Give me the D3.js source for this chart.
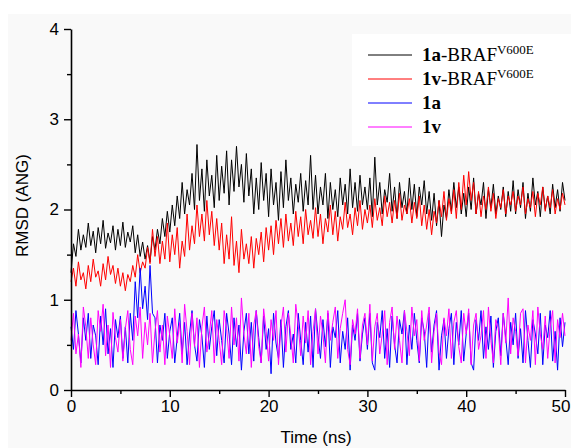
<!DOCTYPE html>
<html><head><meta charset="utf-8">
<script src="https://cdn.jsdelivr.net/npm/d3@7"></script>
<style>html,body{margin:0;padding:0;background:#fff;}svg{display:block;}</style>
</head><body>
<svg id="chart" width="571" height="448"></svg>
<script>
const timeStep = 0.25;
const seriesNames = ["1a-BRAF", "1v-BRAF", "1a", "1v"];
const xTicks = [0, 10, 20, 30, 40, 50];
const xMinorTicks = [5, 15, 25, 35, 45];
const yTicks = [0, 1, 2, 3, 4];
const yMinorTicks = [0.5, 1.5, 2.5, 3.5];

const rmsd1aBRAF = [
1.30,1.62,1.48,1.78,1.55,1.72,1.58,1.85,1.60,1.76,1.52,1.80,1.62,1.88,1.57,1.74,1.63,1.82,1.55,1.78,
1.60,1.86,1.58,1.75,1.64,1.82,1.52,1.72,1.48,1.64,1.45,1.60,1.42,1.70,1.55,1.78,1.62,1.90,1.70,1.98,
1.75,2.05,1.82,2.15,1.90,2.30,1.95,2.22,2.05,2.40,2.00,2.72,2.10,2.45,1.98,2.55,2.15,2.38,2.02,2.60,
2.10,2.48,2.18,2.65,2.05,2.55,2.20,2.70,2.25,2.50,2.08,2.62,2.15,2.45,1.95,2.35,2.00,2.52,2.10,2.40,
1.92,2.45,2.05,2.30,1.88,2.42,2.02,2.55,2.10,2.35,1.95,2.28,2.08,2.40,1.98,2.32,2.05,2.60,2.00,2.38,
1.95,2.25,2.05,2.40,1.90,2.30,2.00,2.22,1.92,2.35,2.05,2.28,1.95,2.45,2.02,2.30,1.98,2.38,2.05,2.25,
2.00,2.35,1.92,2.58,2.05,2.30,1.95,2.22,2.08,2.40,1.98,2.25,1.90,2.30,2.02,2.20,1.95,2.35,2.00,2.28,
1.92,2.25,2.05,2.32,1.95,2.20,1.88,2.18,1.82,2.10,1.70,2.05,1.90,2.22,1.98,2.30,2.02,2.25,1.95,2.18,
1.92,2.25,2.00,2.35,1.95,2.18,2.05,2.30,1.90,2.22,2.02,2.28,1.95,2.15,2.00,2.25,1.92,2.20,1.98,2.32,
1.95,2.22,2.02,2.30,1.90,2.18,1.98,2.35,2.05,2.20,1.92,2.25,2.00,2.15,1.95,2.28,2.02,2.22,1.98,2.30,2.10];

const rmsd1vBRAF = [
1.20,1.35,1.15,1.42,1.22,1.30,1.12,1.38,1.20,1.45,1.25,1.32,1.15,1.40,1.22,1.48,1.28,1.38,1.18,1.35,
1.15,1.30,1.10,1.28,1.20,1.38,1.25,1.50,1.30,1.42,1.35,1.58,1.40,1.78,1.48,1.70,1.40,1.65,1.45,1.85,
1.42,1.72,1.50,1.80,1.35,1.65,1.48,1.95,1.55,1.82,1.62,2.05,1.70,1.95,1.65,2.10,1.72,1.98,1.60,1.90,
1.55,1.85,1.40,1.72,1.45,1.92,1.38,1.65,1.30,1.78,1.45,1.62,1.40,1.70,1.35,1.68,1.50,1.75,1.42,1.80,
1.55,1.82,1.50,1.88,1.62,1.90,1.58,1.95,1.65,1.85,1.60,1.98,1.70,1.92,1.62,2.00,1.72,1.88,1.68,2.02,
1.70,1.95,1.62,1.90,1.75,2.05,1.72,1.98,1.65,1.92,1.78,2.08,1.80,1.95,1.72,2.02,1.82,2.10,1.78,2.00,
1.85,2.05,1.80,2.12,1.88,2.02,1.82,2.15,1.92,2.08,1.85,2.10,1.90,2.18,1.88,2.05,1.95,2.12,1.85,2.08,
1.90,2.15,1.82,2.05,1.78,2.00,1.72,1.98,1.85,2.10,1.92,2.20,1.88,2.12,1.95,2.22,1.90,2.30,2.00,2.38,
2.05,2.42,2.10,2.30,1.95,2.20,1.92,2.15,2.00,2.25,1.98,2.18,1.90,2.12,2.02,2.22,1.95,2.15,2.05,2.20,
1.98,2.15,2.05,2.25,1.95,2.12,2.02,2.20,1.92,2.18,2.05,2.25,1.98,2.15,2.02,2.22,1.95,2.12,2.00,2.18,2.05];

const rmsd1a = [
0.70,0.45,0.88,0.62,0.30,0.80,0.55,0.85,0.35,0.72,0.60,0.28,0.82,0.50,0.90,0.40,0.68,0.25,0.78,0.58,
0.82,0.35,0.70,0.30,0.85,0.55,1.20,0.80,1.35,0.90,1.15,0.78,1.38,0.85,0.80,0.30,0.72,0.55,0.85,0.35,
0.65,0.80,0.30,0.58,0.85,0.40,0.75,0.28,0.62,0.88,0.50,0.32,0.78,0.60,0.25,0.82,0.45,0.70,0.88,0.38,
0.78,0.55,0.30,0.85,0.62,0.28,0.80,0.48,0.72,0.22,0.65,0.85,0.40,0.75,0.32,0.88,0.58,0.30,0.82,0.45,
0.68,0.18,0.85,0.52,0.35,0.78,0.25,0.70,0.88,0.45,0.62,0.30,0.85,0.55,0.28,0.75,0.42,0.82,0.25,0.90,
0.60,0.35,0.78,0.48,0.85,0.25,0.70,0.58,0.88,0.30,0.65,0.45,0.80,0.22,0.72,0.55,0.85,0.32,0.62,0.80,
0.45,0.85,0.30,0.22,0.75,0.58,0.88,0.35,0.68,0.25,0.82,0.50,0.30,0.78,0.62,0.88,0.28,0.72,0.45,0.85,
0.55,0.30,0.80,0.65,0.25,0.85,0.42,0.72,0.88,0.22,0.60,0.78,0.35,0.68,0.85,0.28,0.75,0.50,0.88,0.32,
0.62,0.85,0.30,0.22,0.78,0.55,0.88,0.35,0.70,0.45,0.82,0.25,0.65,0.80,0.38,0.85,0.58,0.28,0.75,0.50,
0.85,0.35,0.68,0.30,0.88,0.55,0.25,0.78,0.62,0.40,0.85,0.28,0.72,0.58,0.88,0.32,0.65,0.22,0.80,0.48,0.75];

const rmsd1v = [
0.55,0.85,0.40,0.62,0.25,0.92,0.70,0.35,0.80,0.50,0.28,0.88,0.65,0.95,0.38,0.72,0.25,0.86,0.58,0.42,
0.78,0.32,0.68,0.88,0.45,0.28,0.82,0.60,0.92,0.35,0.75,0.50,0.85,0.30,0.65,0.88,0.42,0.72,0.28,0.82,
0.60,0.35,0.90,0.52,0.75,0.30,0.95,0.65,0.28,0.85,0.48,0.80,0.25,0.70,0.92,0.42,0.62,0.88,0.30,0.78,
0.55,0.28,0.88,0.68,0.35,0.92,0.50,0.80,0.32,1.02,0.62,0.40,0.85,0.25,0.72,0.88,0.48,0.30,0.90,0.65,
0.32,0.78,0.55,0.88,0.28,0.70,0.92,0.42,0.85,0.60,0.30,0.95,0.72,0.38,0.82,0.52,0.88,0.28,0.65,0.90,
0.40,0.82,0.62,0.30,0.88,0.55,0.75,0.92,0.35,0.68,0.85,1.00,0.45,0.28,0.78,0.62,0.90,0.35,0.72,0.85,
0.50,0.95,0.32,0.70,0.85,0.40,0.62,0.88,0.28,0.75,0.92,0.45,0.82,0.55,0.30,0.88,0.65,0.38,0.92,0.60,
0.78,0.32,0.88,0.55,0.72,0.92,0.30,0.65,0.85,0.42,0.28,0.80,0.60,0.90,0.35,0.75,0.88,0.48,0.30,0.85,
0.62,0.90,0.28,0.72,0.85,0.45,0.60,0.88,0.35,0.92,0.55,0.30,0.78,0.68,0.28,0.85,0.52,1.02,0.40,0.80,
0.65,0.38,0.85,0.90,0.30,0.72,0.55,0.88,0.28,0.92,0.62,0.45,0.82,0.35,0.70,0.88,0.30,0.78,0.58,0.85,0.60];

const seriesColors = ["#000000", "#ff0000", "#0000ff", "#ff00ff"];

// ---- drawing ----
const svg = d3.select("#chart");
const W = 571, H = 448;
const margin = {left: 71, right: 6, top: 29, bottom: 58};

svg.append("rect").attr("x", 0).attr("y", 0).attr("width", W).attr("height", H).attr("fill", "#ffffff");
svg.append("rect").attr("x", 8).attr("y", 14).attr("width", W - 8).attr("height", H - 14).attr("fill", "#f9f9f9");

const x = d3.scaleLinear().domain([0, 50]).range([margin.left, W - margin.right]);
const y = d3.scaleLinear().domain([0, 4]).range([H - margin.bottom, margin.top]);

const allSeries = [rmsd1aBRAF, rmsd1vBRAF, rmsd1a, rmsd1v];
const line = d3.line().x((d, i) => x(i * timeStep)).y(d => y(d));

const plot = svg.append("g");
allSeries.forEach((vals, k) => {
  plot.append("path")
    .datum(vals)
    .attr("fill", "none")
    .attr("stroke", seriesColors[k])
    .attr("stroke-width", 1)
    .attr("d", line);
});

const fontAxis = "'Liberation Sans', Arial, sans-serif";
const fmt = d3.format("d");

// x axis
svg.append("g").attr("class", "xaxis").attr("transform", `translate(0,${y(0)})`)
  .call(d3.axisBottom(x).tickValues(xTicks).tickFormat(fmt).tickSize(7).tickPadding(3).tickSizeOuter(0));
svg.append("g").attr("transform", `translate(0,${y(0)})`)
  .call(d3.axisBottom(x).tickValues(xMinorTicks).tickSize(4).tickFormat("").tickSizeOuter(0))
  .select(".domain").remove();

// y axis
svg.append("g").attr("transform", `translate(${x(0)},0)`)
  .call(d3.axisLeft(y).tickValues(yTicks).tickFormat(fmt).tickSize(7).tickPadding(5).tickSizeOuter(0));
svg.append("g").attr("transform", `translate(${x(0)},0)`)
  .call(d3.axisLeft(y).tickValues(yMinorTicks).tickSize(4).tickFormat("").tickSizeOuter(0))
  .select(".domain").remove();

svg.selectAll(".domain").attr("stroke", "#000").attr("stroke-width", 1.6);
svg.selectAll(".tick line").attr("stroke", "#000").attr("stroke-width", 1.4);
svg.selectAll(".tick text").attr("font-family", fontAxis).attr("font-size", 17).attr("fill", "#000");
// keep the last x label (50) inside the page edge
svg.selectAll(".xaxis .tick text").filter(d => d === 50)
  .attr("text-anchor", "end").attr("x", W - 1 - x(50));

// axis titles
svg.append("text")
  .attr("x", (x(0) + x(50)) / 2 - 2).attr("y", 443)
  .attr("text-anchor", "middle")
  .attr("font-family", fontAxis).attr("font-size", 17)
  .text("Time (ns)");
svg.append("text")
  .attr("transform", `translate(28,${y(2) - 4}) rotate(-90)`)
  .attr("text-anchor", "middle")
  .attr("font-family", fontAxis).attr("font-size", 17)
  .text("RMSD (ANG)");

// legend
const legend = svg.append("g");
legend.append("rect").attr("x", 352).attr("y", 34).attr("width", 219).attr("height", 112).attr("fill", "#ffffff");
const legRows = [
  {bold: "1a", rest: "-BRAF", sup: "V600E"},
  {bold: "1v", rest: "-BRAF", sup: "V600E"},
  {bold: "1a", rest: "", sup: ""},
  {bold: "1v", rest: "", sup: ""}
];
const legY = d3.scaleLinear().domain([0, 3]).range([55, 127]);
legRows.forEach((r, i) => {
  const yy = legY(i);
  legend.append("line")
    .attr("x1", 368).attr("x2", 412).attr("y1", yy).attr("y2", yy)
    .attr("stroke", seriesColors[i]).attr("stroke-width", 1);
  const t = legend.append("text")
    .attr("x", 422).attr("y", yy + 6)
    .attr("font-family", "'Liberation Serif', 'Times New Roman', serif")
    .attr("font-size", 19).attr("fill", "#000");
  t.append("tspan").attr("font-weight", "bold").text(r.bold);
  if (r.rest) t.append("tspan").text(r.rest);
  if (r.sup) t.append("tspan").attr("font-size", 13).attr("dy", -7).text(r.sup);
});
</script>
</body></html>
